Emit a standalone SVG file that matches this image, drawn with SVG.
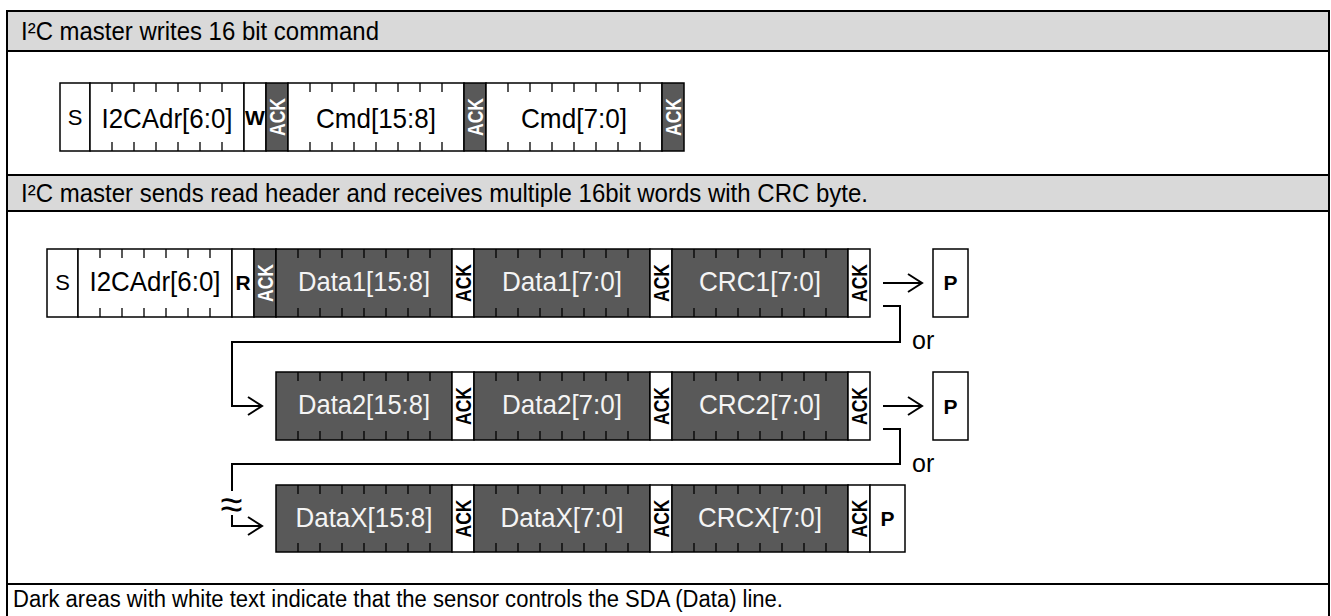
<svg xmlns="http://www.w3.org/2000/svg" width="1331" height="616" viewBox="0 0 1331 616">
<style>
.hd{fill:#d9d9d9}
.ln{stroke:#000;stroke-width:2;fill:none}
.w{fill:#fff;stroke:#000;stroke-width:1.5}
.d{fill:#595959;stroke:#000;stroke-width:1.5}
.tk{stroke:#000;stroke-width:1.3;fill:none}
.ht{font-family:"Liberation Sans",Arial,sans-serif;font-size:26px;fill:#000}
.bt{font-family:"Liberation Sans",Arial,sans-serif;font-size:27.5px;text-anchor:middle;fill:#000}
.bw{fill:#f4f4f4}
.sm{font-family:"Liberation Sans",Arial,sans-serif;font-size:22px;text-anchor:middle;fill:#000}
.bb{font-family:"Liberation Sans",Arial,sans-serif;font-size:21px;font-weight:bold;text-anchor:middle;fill:#000}
.ak{font-family:"Liberation Sans",Arial,sans-serif;font-size:22px;font-weight:bold;text-anchor:middle;fill:#000}
.akw{fill:#fff}
.cn{stroke:#000;stroke-width:2;fill:none}
</style>
<defs>
<marker id="ah" markerUnits="userSpaceOnUse" viewBox="0 0 18 20" refX="16" refY="10" markerWidth="18" markerHeight="20" orient="auto">
<path d="M2,1 L16,10 L2,19" fill="none" stroke="#000" stroke-width="2"/>
</marker>
</defs>
<rect width="1331" height="616" fill="#fff"/>
<g id="table">
<rect class="hd" x="7" y="11" width="1322" height="40"/>
<rect class="hd" x="7" y="175" width="1322" height="36"/>
<path class="ln" d="M7,616 V11 H1329 V616 M7,51 H1329 M7,175 H1329 M7,211 H1329 M7,584 H1329"/>
<text class="ht" x="21" y="40" textLength="358" lengthAdjust="spacingAndGlyphs">I²C master writes 16 bit command</text>
<text class="ht" x="21" y="202" textLength="847" lengthAdjust="spacingAndGlyphs">I²C master sends read header and receives multiple 16bit words with CRC byte.</text>
<text class="ht" x="13" y="607" style="font-size:23.5px" textLength="770" lengthAdjust="spacingAndGlyphs">Dark areas with white text indicate that the sensor controls the SDA (Data) line.</text>
</g>
<g id="row1">
<g id="r1-s"><rect class="w" x="60" y="83" width="30" height="68"/><text class="sm" x="75" y="125">S</text></g>
<g id="r1-adr"><rect class="w" x="90" y="83" width="154" height="68"/><path class="tk" d="M112,83v9M134,83v9M156,83v9M178,83v9M200,83v9M222,83v9M112,151v-9M134,151v-9M156,151v-9M178,151v-9M200,151v-9M222,151v-9"/><text class="bt" x="167" y="127.5" textLength="131" lengthAdjust="spacingAndGlyphs">I2CAdr[6:0]</text></g>
<g id="r1-w"><rect class="w" x="244" y="83" width="22" height="68"/><text class="bb" x="255" y="125">W</text></g>
<g id="r1-ack1"><rect class="d" x="266" y="83" width="22" height="68"/><text class="ak akw" transform="translate(277,117) rotate(-90)" y="8" textLength="38" lengthAdjust="spacingAndGlyphs">ACK</text></g>
<g id="r1-cmd1"><rect class="w" x="288" y="83" width="176" height="68"/><path class="tk" d="M310,83v9M332,83v9M354,83v9M376,83v9M398,83v9M420,83v9M442,83v9M310,151v-9M332,151v-9M354,151v-9M376,151v-9M398,151v-9M420,151v-9M442,151v-9"/><text class="bt" x="376" y="127.5" textLength="120" lengthAdjust="spacingAndGlyphs">Cmd[15:8]</text></g>
<g id="r1-ack2"><rect class="d" x="464" y="83" width="22" height="68"/><text class="ak akw" transform="translate(475,117) rotate(-90)" y="8" textLength="38" lengthAdjust="spacingAndGlyphs">ACK</text></g>
<g id="r1-cmd2"><rect class="w" x="486" y="83" width="176" height="68"/><path class="tk" d="M508,83v9M530,83v9M552,83v9M574,83v9M596,83v9M618,83v9M640,83v9M508,151v-9M530,151v-9M552,151v-9M574,151v-9M596,151v-9M618,151v-9M640,151v-9"/><text class="bt" x="574" y="127.5" textLength="106" lengthAdjust="spacingAndGlyphs">Cmd[7:0]</text></g>
<g id="r1-ack3"><rect class="d" x="662" y="83" width="22" height="68"/><text class="ak akw" transform="translate(673,117) rotate(-90)" y="8" textLength="38" lengthAdjust="spacingAndGlyphs">ACK</text></g>
</g>
<g id="row2">
<g id="r2-s"><rect class="w" x="47" y="249" width="31" height="68"/><text class="sm" x="62.5" y="290">S</text></g>
<g id="r2-adr"><rect class="w" x="78" y="249" width="154" height="68"/><path class="tk" d="M100,249v9M122,249v9M144,249v9M166,249v9M188,249v9M210,249v9M100,317v-9M122,317v-9M144,317v-9M166,317v-9M188,317v-9M210,317v-9"/><text class="bt" x="155" y="291" textLength="131" lengthAdjust="spacingAndGlyphs">I2CAdr[6:0]</text></g>
<g id="r2-r"><rect class="w" x="232" y="249" width="22" height="68"/><text class="bb" x="243" y="290">R</text></g>
<g id="r2-ack0"><rect class="d" x="254" y="249" width="22" height="68"/><text class="ak akw" transform="translate(265,283) rotate(-90)" y="8" textLength="38" lengthAdjust="spacingAndGlyphs">ACK</text></g>
<g id="r2-d1"><rect class="d" x="276" y="249" width="176" height="68"/><path class="tk" d="M298,249v9M320,249v9M342,249v9M364,249v9M386,249v9M408,249v9M430,249v9M298,317v-9M320,317v-9M342,317v-9M364,317v-9M386,317v-9M408,317v-9M430,317v-9"/><text class="bt bw" x="364" y="291" textLength="132" lengthAdjust="spacingAndGlyphs">Data1[15:8]</text></g>
<g id="r2-ack1"><rect class="w" x="452" y="249" width="22" height="68"/><text class="ak" transform="translate(463,283) rotate(-90)" y="8" textLength="38" lengthAdjust="spacingAndGlyphs">ACK</text></g>
<g id="r2-d2"><rect class="d" x="474" y="249" width="176" height="68"/><path class="tk" d="M496,249v9M518,249v9M540,249v9M562,249v9M584,249v9M606,249v9M628,249v9M496,317v-9M518,317v-9M540,317v-9M562,317v-9M584,317v-9M606,317v-9M628,317v-9"/><text class="bt bw" x="562" y="291" textLength="120" lengthAdjust="spacingAndGlyphs">Data1[7:0]</text></g>
<g id="r2-ack2"><rect class="w" x="650" y="249" width="22" height="68"/><text class="ak" transform="translate(661,283) rotate(-90)" y="8" textLength="38" lengthAdjust="spacingAndGlyphs">ACK</text></g>
<g id="r2-crc"><rect class="d" x="672" y="249" width="176" height="68"/><path class="tk" d="M694,249v9M716,249v9M738,249v9M760,249v9M782,249v9M804,249v9M826,249v9M694,317v-9M716,317v-9M738,317v-9M760,317v-9M782,317v-9M804,317v-9M826,317v-9"/><text class="bt bw" x="760" y="291" textLength="122" lengthAdjust="spacingAndGlyphs">CRC1[7:0]</text></g>
<g id="r2-ack3"><rect class="w" x="848" y="249" width="22" height="68"/><text class="ak" transform="translate(859,283) rotate(-90)" y="8" textLength="38" lengthAdjust="spacingAndGlyphs">ACK</text></g>
<g id="r2-p"><rect class="w" x="933" y="249" width="35" height="68"/><text class="bb" x="950.5" y="290">P</text></g>
</g>
<g id="row3">
<g id="r3-d1"><rect class="d" x="276" y="372" width="176" height="68"/><path class="tk" d="M298,372v9M320,372v9M342,372v9M364,372v9M386,372v9M408,372v9M430,372v9M298,440v-9M320,440v-9M342,440v-9M364,440v-9M386,440v-9M408,440v-9M430,440v-9"/><text class="bt bw" x="364" y="414" textLength="132" lengthAdjust="spacingAndGlyphs">Data2[15:8]</text></g>
<g id="r3-ack1"><rect class="w" x="452" y="372" width="22" height="68"/><text class="ak" transform="translate(463,406) rotate(-90)" y="8" textLength="38" lengthAdjust="spacingAndGlyphs">ACK</text></g>
<g id="r3-d2"><rect class="d" x="474" y="372" width="176" height="68"/><path class="tk" d="M496,372v9M518,372v9M540,372v9M562,372v9M584,372v9M606,372v9M628,372v9M496,440v-9M518,440v-9M540,440v-9M562,440v-9M584,440v-9M606,440v-9M628,440v-9"/><text class="bt bw" x="562" y="414" textLength="120" lengthAdjust="spacingAndGlyphs">Data2[7:0]</text></g>
<g id="r3-ack2"><rect class="w" x="650" y="372" width="22" height="68"/><text class="ak" transform="translate(661,406) rotate(-90)" y="8" textLength="38" lengthAdjust="spacingAndGlyphs">ACK</text></g>
<g id="r3-crc"><rect class="d" x="672" y="372" width="176" height="68"/><path class="tk" d="M694,372v9M716,372v9M738,372v9M760,372v9M782,372v9M804,372v9M826,372v9M694,440v-9M716,440v-9M738,440v-9M760,440v-9M782,440v-9M804,440v-9M826,440v-9"/><text class="bt bw" x="760" y="414" textLength="122" lengthAdjust="spacingAndGlyphs">CRC2[7:0]</text></g>
<g id="r3-ack3"><rect class="w" x="848" y="372" width="22" height="68"/><text class="ak" transform="translate(859,406) rotate(-90)" y="8" textLength="38" lengthAdjust="spacingAndGlyphs">ACK</text></g>
<g id="r3-p"><rect class="w" x="933" y="372" width="35" height="68"/><text class="bb" x="950.5" y="413.5">P</text></g>
</g>
<g id="row4">
<g id="r4-d1"><rect class="d" x="276" y="485" width="176" height="67"/><path class="tk" d="M298,485v9M320,485v9M342,485v9M364,485v9M386,485v9M408,485v9M430,485v9M298,552v-9M320,552v-9M342,552v-9M364,552v-9M386,552v-9M408,552v-9M430,552v-9"/><text class="bt bw" x="364" y="526.5" textLength="137" lengthAdjust="spacingAndGlyphs">DataX[15:8]</text></g>
<g id="r4-ack1"><rect class="w" x="452" y="485" width="22" height="67"/><text class="ak" transform="translate(463,518.5) rotate(-90)" y="8" textLength="38" lengthAdjust="spacingAndGlyphs">ACK</text></g>
<g id="r4-d2"><rect class="d" x="474" y="485" width="176" height="67"/><path class="tk" d="M496,485v9M518,485v9M540,485v9M562,485v9M584,485v9M606,485v9M628,485v9M496,552v-9M518,552v-9M540,552v-9M562,552v-9M584,552v-9M606,552v-9M628,552v-9"/><text class="bt bw" x="562" y="526.5" textLength="123" lengthAdjust="spacingAndGlyphs">DataX[7:0]</text></g>
<g id="r4-ack2"><rect class="w" x="650" y="485" width="22" height="67"/><text class="ak" transform="translate(661,518.5) rotate(-90)" y="8" textLength="38" lengthAdjust="spacingAndGlyphs">ACK</text></g>
<g id="r4-crc"><rect class="d" x="672" y="485" width="176" height="67"/><path class="tk" d="M694,485v9M716,485v9M738,485v9M760,485v9M782,485v9M804,485v9M826,485v9M694,552v-9M716,552v-9M738,552v-9M760,552v-9M782,552v-9M804,552v-9M826,552v-9"/><text class="bt bw" x="760" y="526.5" textLength="124" lengthAdjust="spacingAndGlyphs">CRCX[7:0]</text></g>
<g id="r4-ack3"><rect class="w" x="848" y="485" width="22" height="67"/><text class="ak" transform="translate(859,518.5) rotate(-90)" y="8" textLength="38" lengthAdjust="spacingAndGlyphs">ACK</text></g>
<g id="r4-p"><rect class="w" x="870" y="485" width="35" height="67"/><text class="bb" x="887.5" y="526">P</text></g>
</g>
<g id="connectors">
<path class="cn" d="M883,283 H922" marker-end="url(#ah)"/>
<path class="cn" d="M883,406 H922" marker-end="url(#ah)"/>
<path class="cn" d="M883,306 H900 V342 H232 V406 H262" marker-end="url(#ah)"/>
<path class="cn" d="M883,429 H900 V464 H232 V491"/>
<path class="cn" d="M232,515 V526 H262" marker-end="url(#ah)"/>
<text class="ht" x="231.5" y="518" style="font-size:40px;text-anchor:middle">≈</text>
<text class="ht" x="912" y="349" style="font-size:25px">or</text>
<text class="ht" x="912" y="472" style="font-size:25px">or</text>
</g>
</svg>
